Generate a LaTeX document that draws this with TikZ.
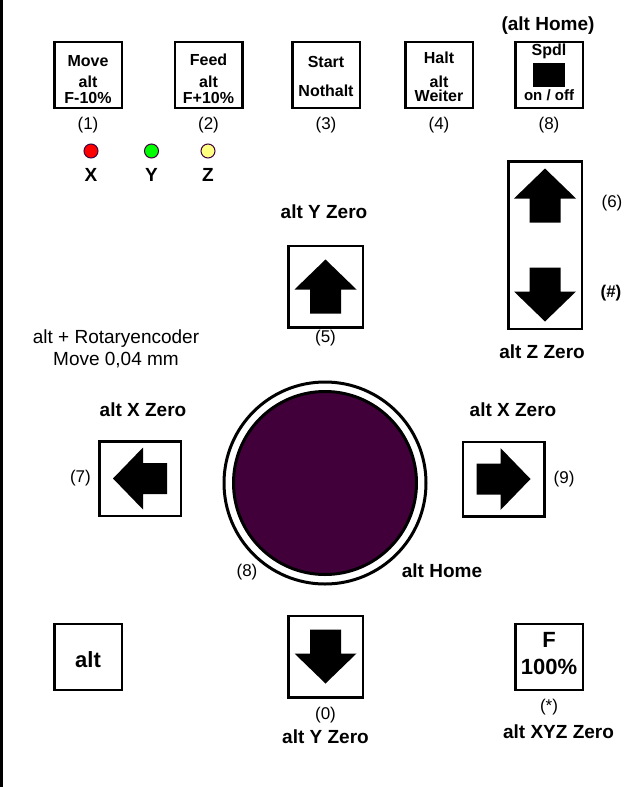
\documentclass[tikz,border=0pt]{standalone}
\usepackage{fontspec}
\setmainfont{Liberation Sans}
\usepackage{tikz}
\usetikzlibrary{positioning}
\definecolor{knobpurple}{RGB}{66,0,58}
\definecolor{ledrim}{RGB}{64,0,64}
\definecolor{ledyellow}{RGB}{255,255,128}
\newcommand{\keyfont}{\fontsize{16}{16}\selectfont\bfseries}
\newcommand{\bigkeyfont}{\fontsize{22}{22}\selectfont\bfseries}
\newcommand{\lblfont}{\fontsize{19}{22}\selectfont\bfseries}
\newcommand{\numfont}{\fontsize{17}{17}\selectfont}
\tikzstyle{key} = [rectangle, draw, line width=2.5pt, minimum width=67.5pt,
    minimum height=66pt, inner sep=0pt, align=center, font=\keyfont]
\tikzstyle{vkey} = [key, minimum width=74.5pt, minimum height=81.5pt]
\tikzstyle{hkey} = [key, minimum width=81.5pt, minimum height=74.5pt]
\tikzstyle{num} = [inner sep=0pt, font=\numfont]
\tikzstyle{lbl} = [inner sep=0pt, font=\lblfont]
\tikzstyle{led} = [circle, draw=ledrim, line width=1pt, minimum size=14pt, inner sep=0pt]
% filled arrow on a key, drawn pointing up and then turned
\newcommand{\padarrow}[2]{%
  \begin{scope}[shift={#1}, rotate=#2]
    \fill (0,-27) -- (31,3) -- (15.5,3) -- (15.5,27) -- (-15.5,27)
      -- (-15.5,3) -- (-31,3) -- cycle;
  \end{scope}}
\begin{document}
\begin{tikzpicture}[x=1pt, y=-1pt]
  \useasboundingbox (0,0) rectangle (629,787);
  \draw[line width=3pt] (1.5,0) -- (1.5,787);

  % Top row of keys
  \node [key] (move) at (88,75) {\rule{0pt}{20.3pt}Move\\[4.6pt]alt\\F-10\%};
  \node [key] (feed) at (208.5,75) {\rule{0pt}{18.3pt}Feed\\[6pt]alt\\F+10\%};
  \node [key] (start) at (326,75) {\rule{0pt}{15pt}Start\\[13pt]Nothalt};
  \node [key] (halt) at (439,75) {\rule{0pt}{16pt}Halt\\[7.5pt]alt\\[-1.5pt]Weiter};
  \node [key] (spdl) at (549,75) {Spdl\\[29pt]{\fontsize{15}{16}\selectfont on / off}\rule[-6.5pt]{0pt}{6.5pt}};
  \node [fill=black, minimum width=32pt, minimum height=24pt, inner sep=0pt] (spdlpad) at (549,75) {};
  \node [lbl, anchor=base] (spdlhome) at (548,30) {(alt Home)};

  \node [num, below=8pt of move] (nmove) {(1)};
  \node [num, below=8pt of feed] (nfeed) {(2)};
  \node [num, below=8pt of start] (nstart) {(3)};
  \node [num, below=8pt of halt] (nhalt) {(4)};
  \node [num, below=8pt of spdl] (nspdl) {(8)};

  % Axis LEDs
  \node [led, fill=red] (ledx) at (91,151) {};
  \node [led, fill=green] (ledy) at (151.5,151) {};
  \node [led, fill=ledyellow] (ledz) at (208,151) {};
  \node [lbl, below=10pt of ledx] (lx) {X};
  \node [lbl, below=10pt of ledy] (ly) {Y};
  \node [lbl, below=10pt of ledz] (lz) {Z};

  % Y up
  \node [vkey] (yup) at (325.5,286.5) {};
  \padarrow{(325.5,286.5)}{0}
  \node [lbl, anchor=base] (yupzero) at (324,218) {alt Y Zero};
  \node [num, below=1pt of yup] (nyup) {(5)};

  % Z up / down
  \node [key, minimum width=73.5pt, minimum height=167.5pt] (zkey) at (545,245) {};
  \padarrow{(545,195.5)}{0}
  \padarrow{(545,294.5)}{180}
  \node [num] (nzup) at (612,203) {(6)};
  \node [num, font=\numfont\bfseries] (nzdown) at (611,293) {(\#)};
  \node [lbl, anchor=base] (zzero) at (542,358) {alt Z Zero};

  \node [inner sep=0pt, align=center, font=\fontsize{19}{22}\selectfont] (rotary) at (116,348.5)
    {alt + Rotaryencoder\\Move 0,04 mm};

  % X left / right
  \node [hkey] (xleft) at (140,478.5) {};
  \padarrow{(140,478.5)}{90}
  \node [num, left=7pt of xleft] (nxleft) {(7)};
  \node [lbl, anchor=base] (xleftzero) at (143,416) {alt X Zero};

  \node [hkey] (xright) at (503.5,479) {};
  \padarrow{(503.5,479)}{-90}
  \node [num, right=8pt of xright] (nxright) {(9)};
  \node [lbl, anchor=base] (xrightzero) at (513,416) {alt X Zero};

  % Handwheel
  \node [circle, draw, line width=3pt, minimum size=202pt, inner sep=0pt] (wheelring) at (325,483) {};
  \node [circle, draw, fill=knobpurple, line width=3pt, minimum size=183pt, inner sep=0pt] (wheel) at (325,483) {};
  \node [num, anchor=base] (nwheel) at (247,576) {(8)};
  \node [lbl, anchor=base] (wheelhome) at (442,577) {alt Home};

  % Bottom row
  \node [key, font=\bigkeyfont] (alt) at (88,657) {\rule{0pt}{22pt}alt};

  \node [vkey] (ydown) at (325.5,656.5) {};
  \padarrow{(325.5,656.5)}{180}
  \node [num, below=8pt of ydown] (nydown) {(0)};
  \node [lbl, below=7pt of nydown] (ydownzero) {alt Y Zero};

  \node [key, font=\bigkeyfont] (fhundred) at (549,657) {F\\[4.7pt]100\%\rule[-6.5pt]{0pt}{6.5pt}};
  \node [num, below=8pt of fhundred] (nfhundred) {(*)};
  \node [lbl, anchor=base] (xyzzero) at (558.5,738) {alt XYZ Zero};
\end{tikzpicture}
\end{document}
